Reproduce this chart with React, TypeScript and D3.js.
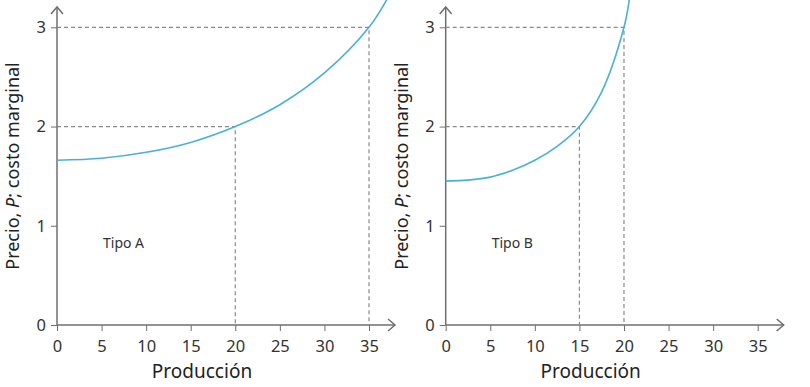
import { axisBottom, axisLeft, curveCatmullRom, format, line, scaleLinear, select } from 'd3'
import { useEffect, useRef } from 'react'

const xTicks = [0, 5, 10, 15, 20, 25, 30, 35]
const yTicks = [0, 1, 2, 3]

const qA = [0, 5, 10, 15, 20, 25, 30, 35, 37]
const pA = [1.66, 1.68, 1.74, 1.84, 2.0, 2.22, 2.54, 3.0, 3.28]
const marksA = [
  { q: 20, p: 2 },
  { q: 35, p: 3 },
]

const qB = [0, 2.5, 5, 7.5, 10, 12.5, 15, 17.5, 20, 20.6]
const pB = [1.45, 1.46, 1.49, 1.56, 1.66, 1.8, 2.0, 2.35, 3.0, 3.28]
const marksB = [
  { q: 15, p: 2 },
  { q: 20, p: 3 },
]

const FONT = '"Noto Sans", "Open Sans", sans-serif'
const AXIS = '#6f6f6f'
const DASH = '#8a8a8a'
const CURVE = '#4bb0d8'

type PanelProps = {
  left: number
  q: number[]
  p: number[]
  marks: { q: number; p: number }[]
  label: string
}

function Panel({ left, q, p, marks, label }: PanelProps) {
  const ref = useRef<SVGGElement>(null)
  const x = scaleLinear().domain([0, 35]).range([left, left + 312])
  const y = scaleLinear().domain([0, 3]).range([325, 27.3])

  useEffect(() => {
    const g = select(ref.current)
    g.selectAll('*').remove()

    // x axis
    const xa = g.append('g').attr('transform', 'translate(0,325)')
      .call(axisBottom(x).tickValues(xTicks).tickFormat(format('d')).tickSize(6).tickSizeOuter(0).tickPadding(9))
    xa.select('.domain').remove()
    xa.selectAll('line').attr('stroke', AXIS)
    xa.selectAll('text').attr('fill', '#333').attr('font-size', 16.5).attr('font-family', FONT)
    g.append('line').attr('x1', x(0)).attr('x2', x(0) + 338).attr('y1', 325).attr('y2', 325)
      .attr('stroke', AXIS).attr('stroke-width', 1.5)
    g.append('path').attr('d', `M${x(0) + 331},319 L${x(0) + 338},325 L${x(0) + 331},331`)
      .attr('fill', 'none').attr('stroke', AXIS).attr('stroke-width', 1.5)

    // y axis
    const ya = g.append('g').attr('transform', `translate(${x(0)},0)`)
      .call(axisLeft(y).tickValues(yTicks).tickFormat(format('d')).tickSize(6).tickSizeOuter(0).tickPadding(5))
    ya.select('.domain').remove()
    ya.selectAll('line').attr('stroke', AXIS)
    ya.selectAll('text').attr('fill', '#333').attr('font-size', 16.5).attr('font-family', FONT)
    g.append('line').attr('x1', x(0)).attr('x2', x(0)).attr('y1', 325).attr('y2', 7)
      .attr('stroke', AXIS).attr('stroke-width', 1.5)
    g.append('path').attr('d', `M${x(0) - 6},14 L${x(0)},7 L${x(0) + 6},14`)
      .attr('fill', 'none').attr('stroke', AXIS).attr('stroke-width', 1.5)

    // dashed guides
    marks.forEach((m) => {
      g.append('path')
        .attr('d', `M${x(0)},${y(m.p)} H${x(m.q)} V${y(0)}`)
        .attr('fill', 'none').attr('stroke', DASH).attr('stroke-width', 1.2)
        .attr('stroke-dasharray', '4,3')
    })

    // curve
    const pts = q.map((d, i) => [d, p[i]] as [number, number])
    const ln = line<[number, number]>().x((d) => x(d[0])).y((d) => y(d[1])).curve(curveCatmullRom.alpha(0.5))
    g.append('path').attr('d', ln(pts)).attr('fill', 'none').attr('stroke', CURVE).attr('stroke-width', 1.6)
  }, [left, q, p, marks])

  return (
    <g>
      <g ref={ref} />
      <text x={left + 46} y={248} fontSize={14} fill="#333" fontFamily={FONT}>{label}</text>
      <text x={left + 145} y={378} fontSize={19} fill="#222" textAnchor="middle" fontFamily={FONT}>Producción</text>
      <text
        transform={`translate(${left - 38},166) rotate(-90)`}
        fontSize={18}
        fill="#222"
        textAnchor="middle"
        fontFamily={FONT}
      >
        Precio, <tspan fontStyle="italic">P</tspan>; costo marginal
      </text>
    </g>
  )
}

export default function App() {
  return (
    <svg width={810} height={387} style={{ position: 'absolute', left: 0, top: 0, background: '#fff' }}>
      <Panel left={57} q={qA} p={pA} marks={marksA} label="Tipo A" />
      <Panel left={445.7} q={qB} p={pB} marks={marksB} label="Tipo B" />
    </svg>
  )
}
